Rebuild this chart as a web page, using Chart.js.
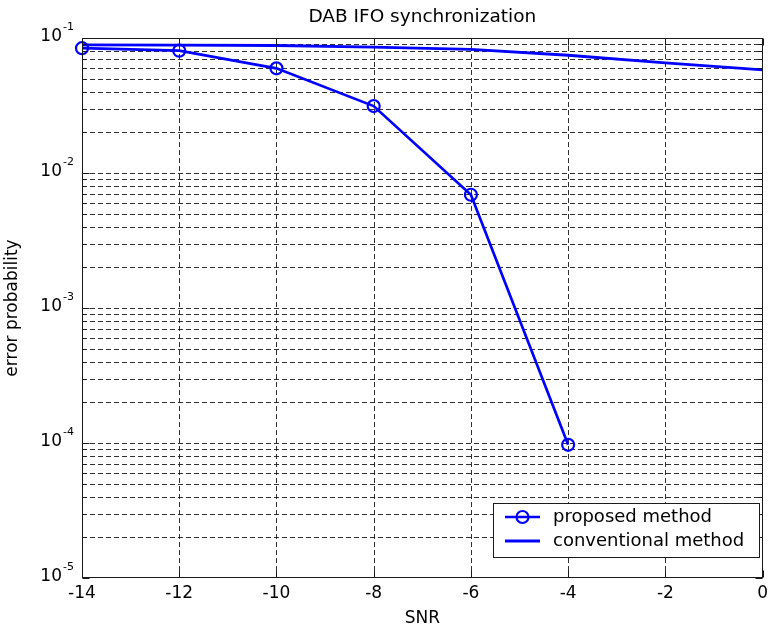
<!DOCTYPE html>
<html>
<head>
<meta charset="utf-8">
<title>DAB IFO synchronization</title>
<script src="https://cdn.jsdelivr.net/npm/chart.js@4"></script>
<style>
  html, body { margin: 0; padding: 0; background: #fff; }
  #wrap { width: 773px; height: 635px; }
</style>
</head>
<body>
<div id="wrap"><canvas id="c" width="773" height="635"></canvas></div>
<script>
// Error probability of integer frequency offset (IFO) sync vs SNR
const chartTitle = 'DAB IFO synchronization';
const xAxisTitle = 'SNR';
const yAxisTitle = 'error probability';
const seriesLabels = ['proposed method', 'conventional method'];

const proposedSnr = [-14, -12, -10, -8, -6, -4];
const proposedErr = [0.084, 0.0805, 0.0596, 0.0313, 0.0069, 0.000097];

const conventionalSnr = [-14, -12, -10, -8, -6, -4, -2, 0];
const conventionalErr = [0.0888, 0.0886, 0.088, 0.0855, 0.0825, 0.0745, 0.0655, 0.058];

const xTicks = [-14, -12, -10, -8, -6, -4, -2, 0];
const yDecades = [1e-5, 1e-4, 1e-3, 1e-2, 1e-1];
const yDecadeExp = ['-5', '-4', '-3', '-2', '-1'];

const FONT = "'DejaVu Sans', 'Liberation Sans', sans-serif";
const BLUE = '#0000ff';

const toPoints = (xs, ys) => xs.map((v, i) => ({ x: v, y: ys[i] }));

// Grid, box, inner tick marks, log labels, title and legend
const axesPlugin = {
  id: 'matlabAxes',
  beforeDatasetsDraw(chart) {
    const { ctx, chartArea: a, scales: { x, y } } = chart;
    ctx.save();
    ctx.strokeStyle = 'rgba(25,25,25,0.9)';
    ctx.lineWidth = 1;
    ctx.setLineDash([5, 3]);
    xTicks.forEach(t => {
      if (t <= x.min || t >= x.max) return;
      const px = Math.round(x.getPixelForValue(t)) + 0.5;
      ctx.beginPath(); ctx.moveTo(px, a.top); ctx.lineTo(px, a.bottom); ctx.stroke();
    });
    yDecades.forEach(d => {
      for (let m = 1; m < 10; m++) {
        const v = d * m;
        if (v <= y.min * 1.0001 || v >= y.max * 0.9999) continue;
        const py = Math.round(y.getPixelForValue(v)) + 0.5;
        ctx.beginPath(); ctx.moveTo(a.left, py); ctx.lineTo(a.right, py); ctx.stroke();
      }
    });
    ctx.restore();
  },
  afterDatasetsDraw(chart) {
    const { ctx, chartArea: a, scales: { x, y } } = chart;
    const L = Math.round(a.left) + 0.5, R = Math.round(a.right) - 0.5;
    const T = Math.round(a.top) + 0.5, B = Math.round(a.bottom) - 0.5;
    ctx.save();
    ctx.strokeStyle = '#1a1a1a';
    ctx.lineWidth = 1;
    ctx.setLineDash([]);
    ctx.strokeRect(L, T, R - L, B - T);
    // x ticks on bottom and top, pointing inward
    xTicks.forEach(t => {
      const px = Math.round(x.getPixelForValue(t)) + 0.5;
      ctx.beginPath();
      ctx.moveTo(px, B); ctx.lineTo(px, B - 7);
      ctx.moveTo(px, T); ctx.lineTo(px, T + 7);
      ctx.stroke();
    });
    // y ticks: major at decades, minor in between
    yDecades.forEach(d => {
      for (let m = 1; m < 10; m++) {
        const v = d * m;
        if (v > y.max * 1.0001) continue;
        const len = m === 1 ? 7 : 4;
        const py = Math.round(y.getPixelForValue(v)) + 0.5;
        ctx.beginPath();
        ctx.moveTo(L, py); ctx.lineTo(L + len, py);
        ctx.moveTo(R, py); ctx.lineTo(R - len, py);
        ctx.stroke();
      }
    });
    // decade labels 10^k
    ctx.fillStyle = '#000';
    ctx.textBaseline = 'middle';
    yDecades.forEach((d, i) => {
      const py = y.getPixelForValue(d);
      const baseRight = a.left - 20;
      ctx.font = '17px ' + FONT;
      ctx.textAlign = 'right';
      ctx.fillText('10', baseRight, py - 1.5);
      ctx.font = '11px ' + FONT;
      ctx.textAlign = 'left';
      ctx.fillText(yDecadeExp[i], baseRight + 1, py - 10.5);
    });
    ctx.restore();
  },
  afterDraw(chart) {
    const { ctx, chartArea: a } = chart;
    ctx.save();
    // title centred over the plot box
    ctx.fillStyle = '#000';
    ctx.font = '18.5px ' + FONT;
    ctx.textAlign = 'center';
    ctx.textBaseline = 'middle';
    ctx.fillText(chartTitle, (a.left + a.right) / 2, 17);

    // legend box in the lower right corner of the plot
    const bx = 493.5, by = 503.5, bw = 266, bh = 54;
    ctx.fillStyle = '#fff';
    ctx.fillRect(bx, by, bw, bh);
    ctx.strokeStyle = '#1a1a1a';
    ctx.lineWidth = 1;
    ctx.strokeRect(bx, by, bw, bh);
    const rows = [517, 541];
    chart.data.datasets.forEach((ds, i) => {
      const ry = rows[i];
      ctx.strokeStyle = ds.borderColor;
      ctx.lineWidth = ds.borderWidth;
      ctx.beginPath(); ctx.moveTo(505, ry); ctx.lineTo(540, ry); ctx.stroke();
      if (ds.pointRadius > 0) {
        ctx.lineWidth = ds.pointBorderWidth;
        ctx.beginPath(); ctx.arc(522.5, ry, ds.pointRadius, 0, Math.PI * 2); ctx.stroke();
      }
      ctx.fillStyle = '#000';
      ctx.font = '18px ' + FONT;
      ctx.textAlign = 'left';
      ctx.textBaseline = 'middle';
      ctx.fillText(ds.label, 553, ry);
    });
    ctx.restore();
  }
};

new Chart(document.getElementById('c'), {
  type: 'line',
  data: {
    datasets: [
      {
        label: seriesLabels[0],
        data: toPoints(proposedSnr, proposedErr),
        borderColor: BLUE,
        borderWidth: 2.7,
        pointRadius: 6,
        pointBorderWidth: 2.2,
        pointBorderColor: BLUE,
        pointBackgroundColor: 'rgba(0,0,0,0)',
        pointStyle: 'circle',
        fill: false,
        tension: 0,
        clip: false
      },
      {
        label: seriesLabels[1],
        data: toPoints(conventionalSnr, conventionalErr),
        borderColor: BLUE,
        borderWidth: 2.8,
        pointRadius: 0,
        pointBorderWidth: 0,
        fill: false,
        tension: 0,
        clip: false
      }
    ]
  },
  options: {
    responsive: false,
    animation: false,
    devicePixelRatio: 1,
    layout: { padding: { left: 0, right: 6, top: 38, bottom: 0 } },
    plugins: {
      legend: { display: false },
      tooltip: { enabled: false },
      title: { display: false }
    },
    scales: {
      x: {
        type: 'linear',
        min: -14,
        max: 0,
        afterBuildTicks: s => { s.ticks = xTicks.map(v => ({ value: v })); },
        afterFit: s => { s.height = 57; },
        ticks: {
          font: { family: FONT, size: 17 },
          color: '#000',
          padding: 5,
          maxRotation: 0,
          autoSkip: false
        },
        grid: { display: false, drawTicks: false },
        border: { display: false },
        title: {
          display: true,
          text: xAxisTitle,
          font: { family: FONT, size: 17 },
          color: '#000',
          padding: { top: 0, bottom: 6 }
        }
      },
      y: {
        type: 'logarithmic',
        min: 1e-5,
        max: 1e-1,
        afterBuildTicks: s => { s.ticks = yDecades.map(v => ({ value: v })); },
        afterFit: s => { s.width = 82; },
        ticks: { display: false },
        grid: { display: false, drawTicks: false },
        border: { display: false },
        title: {
          display: true,
          text: yAxisTitle,
          font: { family: FONT, size: 17 },
          color: '#000',
          padding: { top: 2, bottom: 0 }
        }
      }
    }
  },
  plugins: [axesPlugin]
});
</script>
</body>
</html>
